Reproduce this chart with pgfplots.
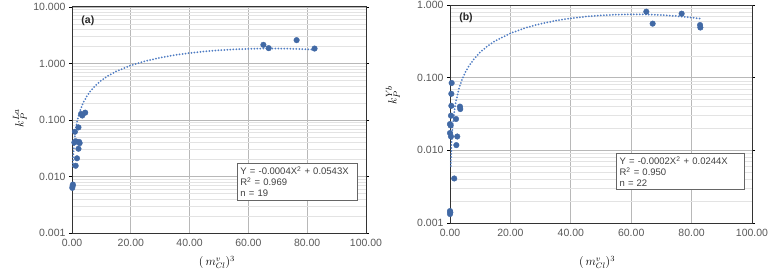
\documentclass[border=0pt]{standalone}
\usepackage{pgfplots}
\pgfplotsset{compat=1.18}
\usepackage{fontspec}
\setmainfont{Liberation Sans}
\definecolor{ptc}{RGB}{65,105,165}
\definecolor{trc}{RGB}{80,125,195}
\definecolor{tkc}{RGB}{89,89,89}
\pgfplotsset{
  /pgfplots/myax/.style={
    scale only axis,
    xmin=0, xmax=100,
    xtick={0,20,40,60,80,100},
    xticklabels={0.00,20.00,40.00,60.00,80.00,100.00},
    grid=major, yminorgrids=true,
    major grid style={color=black!28, line width=0.9pt},
    minor grid style={color=black!11, line width=0.5pt},
    axis line style={color=black!80, line width=1pt},
    tick align=outside, major tick length=3pt, minor tick length=0pt,
    xtick style={draw=none}, ytick style={color=black, line width=0.8pt},
    ticklabel style={font=\fontsize{10.5}{12}\selectfont, color=tkc},
    clip=false,
  },
  /pgfplots/trend/.style={trc, line width=2pt, line cap=round, dash pattern=on 0pt off 3pt},
}
\begin{document}
\begin{tikzpicture}
\useasboundingbox (0,0) rectangle (773pt,270pt);
% ---------- (a)
\begin{axis}[ymode=log, myax, at={(72pt,37pt)}, anchor=south west, width=294pt, height=226pt,
  ymin=0.001, ymax=10, ytick={0.001,0.01,0.1,1,10},
  yticklabels={0.001,0.010,0.100,1.000,10.000}]
\addplot[trend] coordinates {
 (0.28,0.0152) (0.5,0.02705) (0.75,0.0405) (1,0.0539) (1.5,0.0806) (2,0.107) (3,0.1593)
 (4,0.2108) (5,0.2615) (6,0.3114) (8,0.4088) (10,0.503) (12.5,0.6163) (15,0.7245)
 (20,0.926) (25,1.1075) (30,1.269) (35,1.4105) (40,1.532) (45,1.6335) (50,1.715)
 (55,1.7765) (60,1.818) (65,1.8395) (70,1.841) (75,1.8225) (80,1.784) (83,1.7513)};
\addplot[only marks, mark=*, mark size=2.8pt, ptc, mark options={fill=ptc, draw=ptc}] coordinates {
 (65.1,2.14) (66.9,1.87) (76.4,2.59) (82.5,1.84)
 (4.5,0.135) (3.5,0.120) (3.1,0.128) (2.2,0.074) (1.0,0.062)
 (0.8,0.040) (1.3,0.042) (2.4,0.041) (2.6,0.039) (2.2,0.031) (1.7,0.021)
 (1.25,0.0155) (0.3,0.0072) (0.2,0.0068) (0.1,0.0063)};
\node[font=\bfseries\fontsize{10.5}{12}\selectfont, text=black!85] at (rel axis cs:0.054,0.938) {(a)};
\node[draw=black!60, line width=0.9pt, fill=white, anchor=north west, align=left,
  font=\fontsize{9.5}{11}\selectfont, text=black!75, inner sep=3pt, text width=114pt]
  at (rel axis cs:0.561,0.310) {Y = -0.0004X\textsuperscript{2} + 0.0543X\\R\textsuperscript{2} = 0.969\\n = 19};
\node[font=\fontsize{12}{14}\selectfont, inner sep=1pt] at (rel axis cs:0.493,-0.13) {$(\,m_{Cl}^{v})^{3}$};
\node[font=\fontsize{13}{15}\selectfont, rotate=90] at (rel axis cs:-0.177,0.509) {$k_{P}^{La}$};
\end{axis}
% ---------- (b)
\begin{axis}[ymode=log, myax, at={(450pt,47pt)}, anchor=south west, width=302pt, height=218pt,
  ymin=0.001, ymax=1, ytick={0.001,0.01,0.1,1},
  yticklabels={0.001,0.010,0.100,1.000}]
\addplot[trend] coordinates {
 (0.25,0.00609) (0.5,0.01215) (0.75,0.01819) (1,0.0242) (1.5,0.03615) (2,0.048) (3,0.0714)
 (4,0.0944) (5,0.117) (6,0.1392) (8,0.1824) (10,0.224) (12.5,0.27375) (15,0.321)
 (20,0.408) (25,0.485) (30,0.552) (35,0.609) (40,0.656) (45,0.693) (50,0.72)
 (55,0.737) (60,0.744) (65,0.741) (70,0.728) (75,0.705) (80,0.672) (83,0.6474)};
\addplot[only marks, mark=*, mark size=2.8pt, ptc, mark options={fill=ptc, draw=ptc}] coordinates {
 (65.0,0.81) (67.1,0.554) (76.7,0.76) (82.8,0.53) (82.9,0.49)
 (0.55,0.0845) (0.44,0.060) (0.44,0.041) (3.3,0.040) (3.4,0.037) (0.33,0.030)
 (2.0,0.027) (0.0,0.023) (0.2,0.022) (0.0,0.0173) (0.33,0.0155) (2.4,0.0155)
 (2.1,0.0118) (1.4,0.0041) (0.0,0.00146) (0.1,0.0014) (0.0,0.00133)};
\node[font=\bfseries\fontsize{10.5}{12}\selectfont, text=black!85] at (rel axis cs:0.053,0.94) {(b)};
\node[draw=black!60, line width=0.9pt, fill=white, anchor=north west, align=left,
  font=\fontsize{9.5}{11}\selectfont, text=black!75, inner sep=3pt, text width=122pt]
  at (rel axis cs:0.550,0.321) {Y = -0.0002X\textsuperscript{2} + 0.0244X\\R\textsuperscript{2} = 0.950\\n = 22};
\node[font=\fontsize{12}{14}\selectfont, inner sep=1pt] at (rel axis cs:0.487,-0.181) {$(\,m_{Cl}^{v})^{3}$};
\node[font=\fontsize{13}{15}\selectfont, rotate=90] at (rel axis cs:-0.189,0.587) {$k_{P}^{Yb}$};
\end{axis}
\end{tikzpicture}
\end{document}
